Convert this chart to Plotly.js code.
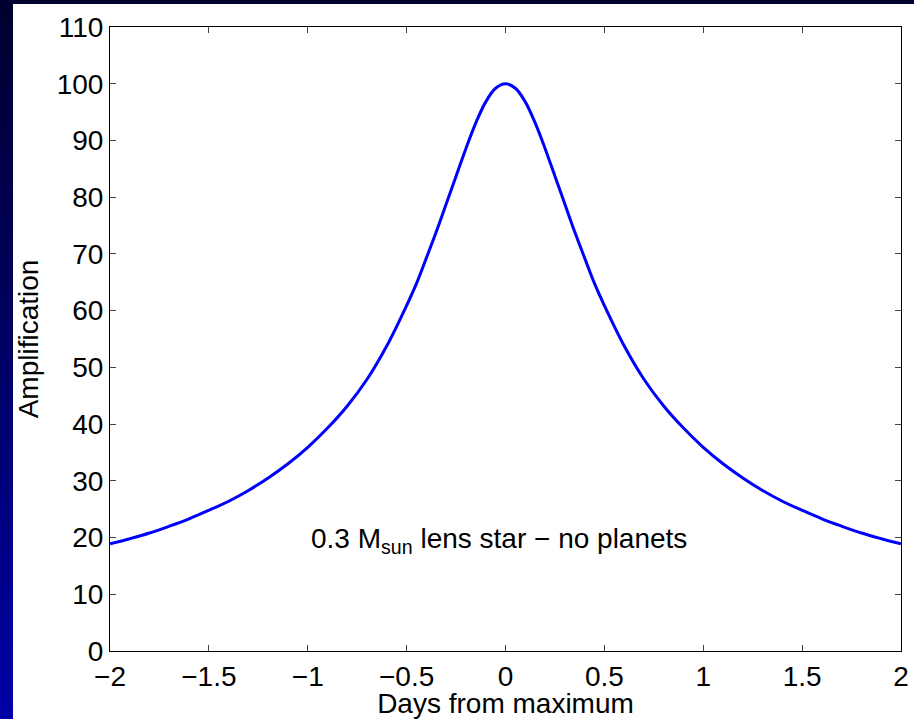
<!DOCTYPE html>
<html>
<head>
<meta charset="utf-8">
<script src="https://cdn.plot.ly/plotly-3.0.1.min.js"></script>
<style>
  html, body { margin: 0; padding: 0; width: 914px; height: 719px; overflow: hidden;
    background: linear-gradient(to bottom, #00002e 0%, #000066 50%, #0000a6 100%); }
  #chart { position: absolute; left: 13px; top: 4px; width: 901px; height: 715px; }
</style>
</head>
<body>
<div id="chart"></div>
<script>
// Days from maximum
const days = [-2.0, -1.9, -1.8, -1.7, -1.6, -1.5, -1.4, -1.3, -1.2, -1.1, -1.0,
  -0.9, -0.8, -0.7, -0.6, -0.5, -0.45, -0.4, -0.35, -0.3, -0.25, -0.2, -0.15, -0.1, -0.05, 0.0,
  0.05, 0.1, 0.15, 0.2, 0.25, 0.3, 0.35, 0.4, 0.45, 0.5, 0.6, 0.7, 0.8, 0.9,
  1.0, 1.1, 1.2, 1.3, 1.4, 1.5, 1.6, 1.7, 1.8, 1.9, 2.0];
// Amplification
const amplification = [18.9, 19.8, 20.8, 22.0, 23.3, 24.8, 26.4, 28.3, 30.5, 33.0, 35.9,
  39.3, 43.2, 47.9, 53.8, 60.9, 64.8, 69.3, 73.9, 78.8, 83.7, 88.6, 93.1, 96.8, 99.2, 100.0,
  99.2, 96.8, 93.1, 88.6, 83.7, 78.8, 73.9, 69.3, 64.8, 60.9, 53.8, 47.9, 43.2, 39.3,
  35.9, 33.0, 30.5, 28.3, 26.4, 24.8, 23.3, 22.0, 20.8, 19.8, 18.9];
const xTicks = [-2, -1.5, -1, -0.5, 0, 0.5, 1, 1.5, 2];
const yTicks = [0, 10, 20, 30, 40, 50, 60, 70, 80, 90, 100, 110];
const labelText = '0.3 M<sub>sun</sub> lens star \u2212 no planets';

const font = { family: 'Liberation Sans, Arial, Helvetica, sans-serif', size: 28, color: '#000' };

const trace = {
  x: days, y: amplification, type: 'scatter', mode: 'lines',
  line: { color: '#0000ff', width: 3, shape: 'spline', smoothing: 1 },
  hoverinfo: 'skip'
};

const axisCommon = {
  showgrid: false, zeroline: false, showline: true, linecolor: '#000', linewidth: 1,
  mirror: 'allticks', ticks: 'inside', ticklen: 6, tickwidth: 1, tickcolor: '#444',
  tickfont: font
};

const layout = {
  width: 901, height: 715,
  margin: { l: 97, r: 13, t: 23, b: 68 },
  paper_bgcolor: '#ffffff', plot_bgcolor: '#ffffff',
  font: font, showlegend: false,
  xaxis: Object.assign({}, axisCommon, {
    range: [-2, 2], tickvals: xTicks, ticktext: xTicks.map(v => v < 0 ? '\u2212' + Math.abs(v) : String(v)),
    title: { text: 'Days from maximum', font: font, standoff: 0 }
  }),
  yaxis: Object.assign({}, axisCommon, {
    range: [0, 110], tickvals: yTicks, ticktext: yTicks.map(String),
    title: { text: 'Amplification', font: font, standoff: 10 }
  }),
  annotations: [{
    x: -0.995, y: 19.5, xref: 'x', yref: 'y', text: labelText, showarrow: false,
    xanchor: 'left', yanchor: 'middle', font: font
  }]
};

Plotly.newPlot('chart', [trace], layout, { displayModeBar: false, staticPlot: true });
</script>
</body>
</html>
